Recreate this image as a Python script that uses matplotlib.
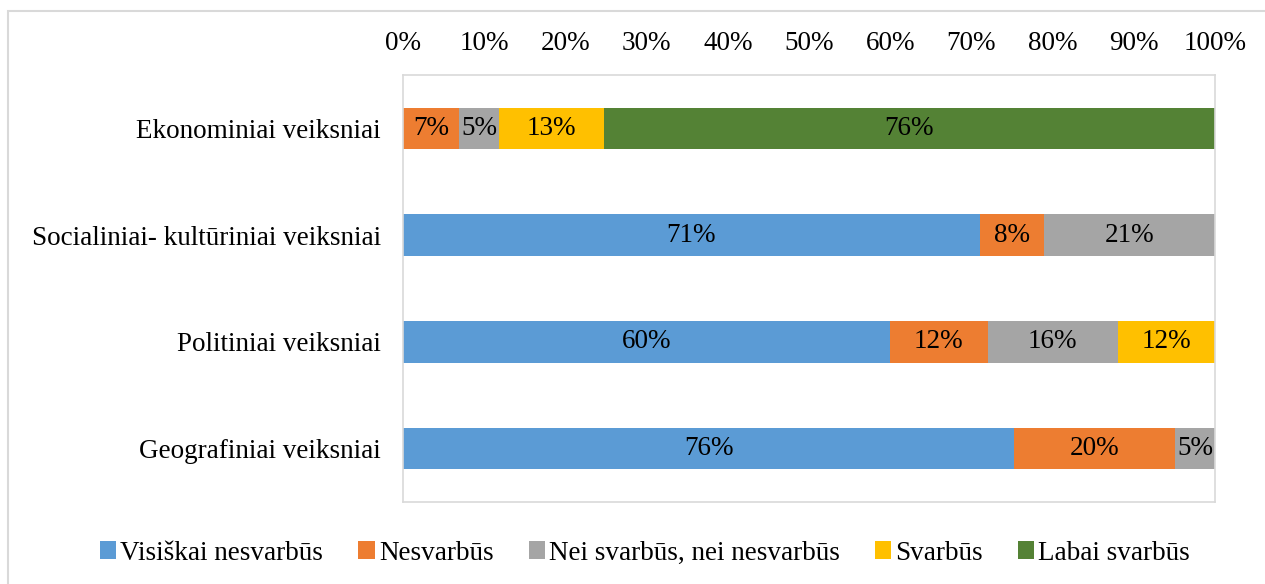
import matplotlib.pyplot as plt
from matplotlib.patches import Rectangle

plt.rcParams['font.family'] = ['Liberation Serif', 'DejaVu Serif']

# categories from bottom to top
categories = ["Geografiniai veiksniai", "Politiniai veiksniai",
              "Socialiniai- kultūriniai veiksniai", "Ekonominiai veiksniai"]
series_names = ["Visiškai nesvarbūs", "Nesvarbūs", "Nei svarbūs, nei nesvarbūs",
                "Svarbūs", "Labai svarbūs"]
visiskai = [76, 60, 71, 0]
nesvarbus = [20, 12, 8, 7]
nei = [5, 16, 21, 5]
svarbus = [0, 12, 0, 13]
labai = [0, 0, 0, 76]
colors = ["#5B9BD5", "#ED7D31", "#A5A5A5", "#FFC000", "#548235"]

series = [visiskai, nesvarbus, nei, svarbus, labai]
totals = [sum(s[i] for s in series) for i in range(len(categories))]

fig = plt.figure(figsize=(12.65, 5.84), dpi=100)
ax = fig.add_axes([403 / 1265, 1 - 502 / 584, 812 / 1265, 427 / 584])

# outer chart frame
fig.patches.append(Rectangle((8 / 1265, -0.1), 1.2, 1.1 - 11 / 584,
                             transform=fig.transFigure, fill=False,
                             edgecolor="#D9D9D9", linewidth=1.5))

y = list(range(len(categories)))
left = [0.0] * len(categories)
fs = 19.5
for name, vals, col in zip(series_names, series, colors):
    share = [v / t * 100 for v, t in zip(vals, totals)]
    bars = ax.barh(y, share, left=left, height=0.39, color=col, label=name)
    labels = [f"{v}%" if v > 0 else "" for v in vals]
    ax.bar_label(bars, labels=labels, label_type="center", fontsize=fs, color="black")
    left = [l + s for l, s in zip(left, share)]

ax.set_xlim(0, 100)
ax.set_ylim(-0.5, 3.5)
ax.set_yticks(y)
ax.set_yticklabels(categories, fontsize=fs)
ax.set_xticks(range(0, 101, 10))
ax.set_xticklabels([f"{t}%" for t in range(0, 101, 10)], fontsize=fs)
ax.xaxis.tick_top()
ax.tick_params(axis="both", length=0)
ax.tick_params(axis="x", pad=14)
ax.tick_params(axis="y", pad=16)
for sp in ax.spines.values():
    sp.set_color("#D9D9D9")
    sp.set_linewidth(1.2)

fig.legend(loc="center", bbox_to_anchor=(0.51, 1 - 553 / 584), ncol=5, frameon=False,
           fontsize=fs, handlelength=0.6, handleheight=0.6, handletextpad=0.15,
           columnspacing=1.3)

fig.savefig("out.png", dpi=100)
